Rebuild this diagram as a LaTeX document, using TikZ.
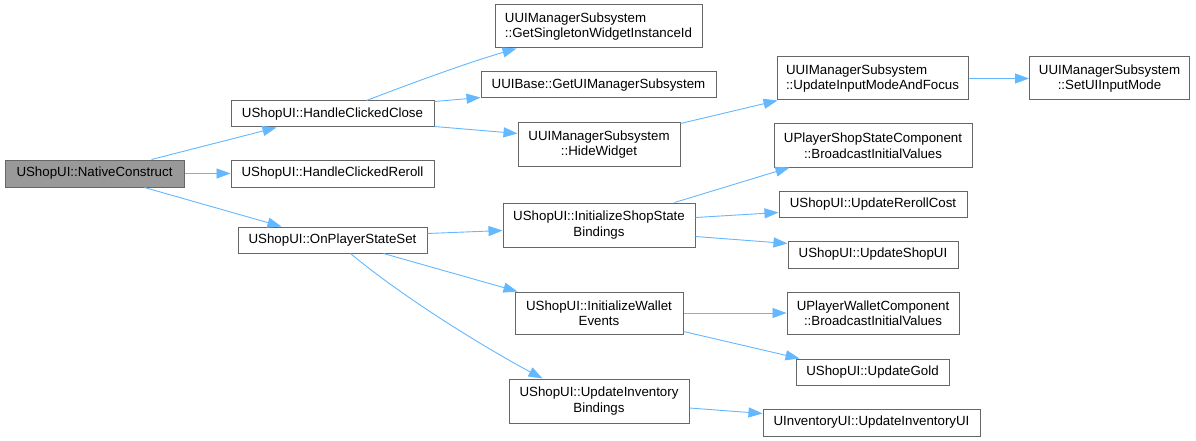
\documentclass[tikz,border=0pt]{standalone}
\usepackage{fontspec}
\setmainfont{Liberation Sans}
\usetikzlibrary{arrows.meta,calc}
\definecolor{edgeblue}{HTML}{63B8FF}
\definecolor{boxline}{HTML}{666666}
\definecolor{rootfill}{HTML}{999999}
\tikzset{
  box/.style={draw=boxline, fill=white, line width=1pt, inner sep=0pt,
    font=\fontsize{13.3}{15.5}\selectfont, align=center},
  rootbox/.style={box, fill=rootfill},
  leftbox/.style={box, align=left},
  call/.style={draw=edgeblue, line width=0.9pt, -{Triangle[length=14pt,width=10pt]}}
}
\begin{document}
\begin{tikzpicture}[x=1pt,y=-1pt]
\fill[white] (0,0) rectangle (1196,441);
\useasboundingbox (0,0) rectangle (1196,441);

\node[rootbox, minimum width=179pt, minimum height=27pt] (nc) at (94.5,173.5) {UShopUI::NativeConstruct};
\node[box, minimum width=203pt, minimum height=26pt] (hcc) at (332.5,114) {UShopUI::HandleClickedClose};
\node[box, minimum width=203pt, minimum height=27pt] (hcr) at (332.5,173.5) {UShopUI::HandleClickedReroll};
\node[box, minimum width=189pt, minimum height=26pt] (opss) at (332.5,240) {UShopUI::OnPlayerStateSet};

\node[leftbox, minimum width=207pt, minimum height=43pt] (gsw) at (598.5,26.5) {UUIManagerSubsystem\\::GetSingletonWidgetInstanceId};
\node[box, minimum width=235pt, minimum height=26pt] (gui) at (598.5,85) {UUIBase::GetUIManagerSubsystem};
\node[box, minimum width=162pt, minimum height=43pt] (hw) at (599,144.5) {UUIManagerSubsystem\\::HideWidget};
\node[leftbox, minimum width=191pt, minimum height=43pt] (uim) at (872.5,78.5) {UUIManagerSubsystem\\::UpdateInputModeAndFocus};
\node[box, minimum width=160pt, minimum height=43pt] (sui) at (1109.5,78.5) {UUIManagerSubsystem\\::SetUIInputMode};

\node[box, minimum width=198pt, minimum height=43pt] (biv) at (873,145.5) {UPlayerShopStateComponent\\::BroadcastInitialValues};
\node[box, minimum width=192pt, minimum height=44pt] (iss) at (599,225) {UShopUI::InitializeShopState\\Bindings};
\node[box, minimum width=188pt, minimum height=26pt] (urc) at (873,204) {UShopUI::UpdateRerollCost};
\node[box, minimum width=170pt, minimum height=27pt] (usu) at (873,254.5) {UShopUI::UpdateShopUI};

\node[box, minimum width=168pt, minimum height=42pt] (iwe) at (599,313) {UShopUI::InitializeWallet\\Events};
\node[box, minimum width=172pt, minimum height=42pt] (pwb) at (873,313) {UPlayerWalletComponent\\::BroadcastInitialValues};
\node[box, minimum width=153pt, minimum height=26pt] (ug) at (872.5,372) {UShopUI::UpdateGold};
\node[box, minimum width=180pt, minimum height=44pt] (uib) at (599,401) {UShopUI::UpdateInventory\\Bindings};
\node[box, minimum width=217pt, minimum height=27pt] (uiu) at (871.5,422.5) {UInventoryUI::UpdateInventoryUI};

\draw[call] ($(nc.north west)+(147,0)$) -- ($(hcc.south west)+(46,0)$);
\draw[call] (nc.east) -- (hcr.west);
\draw[call] ($(nc.south west)+(140,0)$) -- ($(opss.north west)+(44,0)$);

\draw[call] ($(hcc.north west)+(136,0)$) .. controls (420,80) and (470,62) .. ($(gsw.south west)+(22,0)$);
\draw[call] ($(hcc.north east)+(0,1)$) -- ($(gui.south west)+(0,-1)$);
\draw[call] ($(hcc.south east)+(0,-1)$) -- ($(hw.north west)+(0,11)$);
\draw[call] ($(hw.north east)+(0,1)$) -- ($(uim.south west)+(1,0)$);
\draw[call] (uim.east) -- (sui.west);

\draw[call] ($(opss.north east)+(0,7)$) -- ($(iss.north west)+(0,28)$);
\draw[call] ($(opss.south west)+(146,0)$) -- ($(iwe.north west)+(3,0)$);
\draw[call] ($(opss.south west)+(113,0)$) .. controls (400,295) and (480,345) .. ($(uib.north west)+(34,0)$);

\draw[call] ($(iss.north west)+(172,0)$) -- ($(biv.south west)+(16,0)$);
\draw[call] ($(iss.north east)+(0,15)$) -- ($(urc.south west)+(0,-5)$);
\draw[call] ($(iss.south east)+(0,-11)$) -- ($(usu.north west)+(0,3)$);

\draw[call] (iwe.east) -- (pwb.west);
\draw[call] ($(iwe.south east)+(0,-3)$) -- ($(ug.north west)+(4,0)$);
\draw[call] ($(uib.east)+(0,7)$) -- ($(uiu.west)+(0,-9)$);
\end{tikzpicture}
\end{document}
